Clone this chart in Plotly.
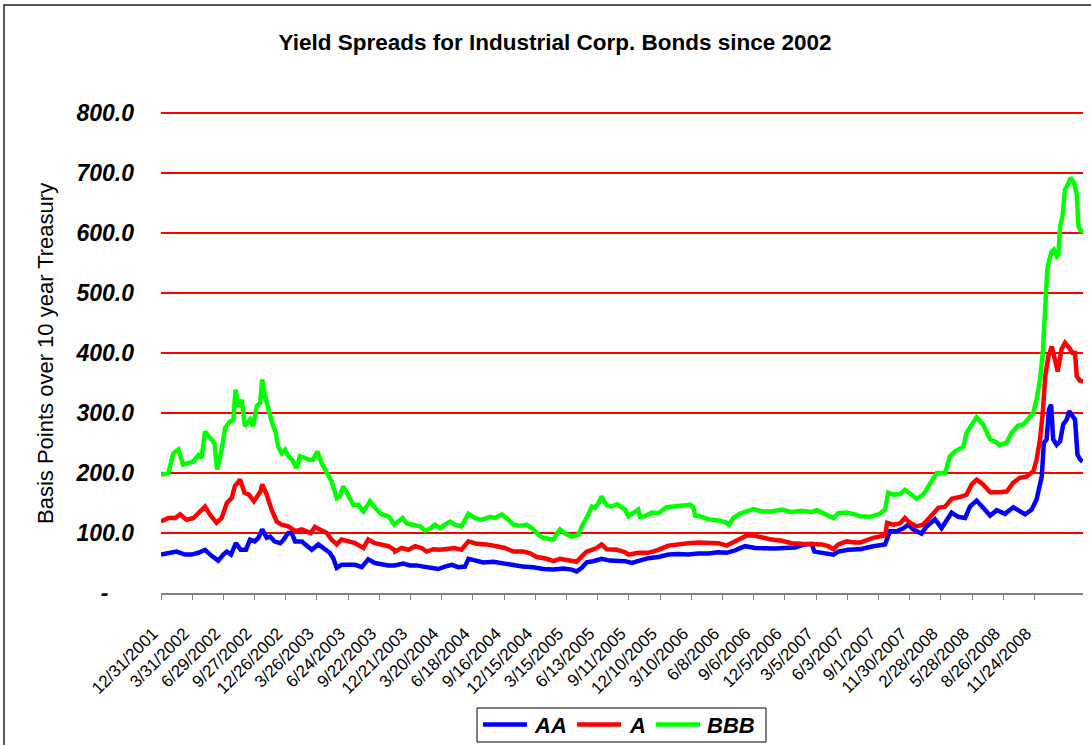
import pandas as pd
import plotly.graph_objects as go

start_date = "2001-12-31"

tick_labels = ["12/31/2001", "3/31/2002", "6/29/2002", "9/27/2002", "12/26/2002", "3/26/2003",
               "6/24/2003", "9/22/2003", "12/21/2003", "3/20/2004", "6/18/2004", "9/16/2004",
               "12/15/2004", "3/15/2005", "6/13/2005", "9/11/2005", "12/10/2005", "3/10/2006",
               "6/8/2006", "9/6/2006", "12/5/2006", "3/5/2007", "6/3/2007", "9/1/2007",
               "11/30/2007", "2/28/2008", "5/28/2008", "8/26/2008", "11/24/2008"]

series_names = ["AA", "A", "BBB"]
series_colors = ["#0000FF", "#FF0000", "#00FF00"]

# days since 12/31/2001 and basis points
bbb_days = [0, 21, 36, 50, 64, 79, 93, 108, 117, 127, 141, 154, 162, 175, 185, 199, 209, 215, 223, 233,
            242, 257, 266, 276, 286, 292, 300, 310, 321, 331, 338, 348, 358, 367, 379, 391, 401, 415, 427,
            439, 451, 463, 478, 492, 507, 516, 526, 540, 555, 569, 584, 603, 617, 637, 656, 673,
            685, 697, 709, 728, 747, 762, 776, 791, 805, 819, 834, 848, 867, 887, 906, 925, 949, 964, 983,
            997, 1017, 1036, 1055, 1074, 1089, 1103, 1122, 1132, 1151, 1166, 1185, 1204, 1214, 1228, 1243,
            1252, 1262, 1271, 1286, 1300, 1315, 1334,
            1339, 1348, 1363, 1377, 1382, 1396, 1416, 1435, 1459, 1483, 1507, 1526, 1536, 1541, 1555, 1579,
            1608, 1627, 1639, 1651, 1670, 1690, 1709, 1733, 1762, 1791, 1819, 1848, 1877, 1892, 1916, 1940,
            1954, 1978, 2002,
            2017, 2045, 2074, 2089, 2098, 2113, 2132, 2146, 2161, 2180, 2199, 2219, 2238, 2262, 2276, 2291,
            2315, 2324, 2339, 2353, 2372, 2392, 2411, 2420, 2440, 2454, 2473, 2488, 2502, 2517, 2526, 2536,
            2544, 2550, 2557, 2563, 2570, 2576, 2584, 2589, 2594, 2601, 2608, 2618, 2624, 2634, 2642, 2647,
            2653, 2661]
bbb = [197, 200, 233, 239, 214, 217, 219, 230, 225, 269, 258, 250, 206, 239, 275, 286, 289, 339, 311, 322,
       278, 289, 278, 311, 317, 356, 328, 303, 283, 267, 244, 233, 239, 228, 222, 208, 228, 225, 222,
       222, 236, 217, 200, 186, 158, 161, 178, 161, 147, 147, 136, 153, 142, 131, 128, 114,
       119, 125, 116, 114, 111, 104, 107, 114, 108, 114, 119, 114, 111, 132, 125, 122, 127, 125, 131,
       125, 114, 112, 114, 106, 97, 92, 89, 89, 106, 99, 94, 97, 111, 125, 144,
       142, 150, 161, 146, 144, 148, 139,
       139, 128, 134, 139, 127, 128, 134, 133, 143, 144, 146, 147, 143, 129, 128, 123,
       121, 118, 114, 125, 132, 137, 140, 136, 136, 139, 135, 137, 135, 138, 131, 125,
       133, 134, 131,
       128, 127, 132, 139, 167, 164, 165, 172, 165, 157, 164, 183, 200, 200, 228, 236,
       244, 267, 281, 293, 281, 256, 251, 246, 251, 267, 279, 281, 290, 301, 322, 356,
       400, 467, 539, 556, 569, 572, 561, 564, 611, 628, 672, 683, 692, 684, 664, 611,
       604, 603]

a_days = [0, 21, 41, 55, 74, 94, 108, 127, 141, 160, 175, 190, 204, 213, 228, 241, 254, 268, 287, 292,
          305, 319, 334, 348, 367, 387, 406, 420, 432, 444, 458, 478, 492, 507, 521, 540, 560, 584, 598,
          617, 637, 656, 673,
          675, 694, 714, 733, 752, 766, 786, 805, 829, 848, 867, 887, 911, 940, 968, 992, 1017, 1045,
          1065, 1084, 1113, 1132, 1151, 1175, 1199, 1214, 1228, 1243, 1257, 1271, 1286, 1315, 1334,
          1339, 1348, 1377, 1406, 1435, 1464, 1493, 1521, 1550, 1579, 1608, 1632, 1646, 1670, 1690, 1709,
          1733, 1762, 1791, 1819, 1848, 1877, 1906, 1925, 1940, 1954, 1978, 2002,
          2017, 2055, 2089, 2095, 2113, 2132, 2146, 2161, 2180, 2199, 2219, 2243, 2262, 2281, 2305, 2324,
          2339, 2353, 2372, 2392, 2420, 2440, 2459, 2478, 2497, 2517, 2526, 2536, 2544, 2551, 2560, 2570,
          2579, 2587, 2598, 2608, 2621, 2630, 2637, 2642, 2651, 2661]
a = [119, 125, 125, 131, 122, 125, 133, 144, 131, 117, 125, 150, 158, 178, 189, 167, 164, 153, 169, 181,
     164, 139, 119, 114, 111, 103, 106, 103, 100, 110, 106, 100, 89, 81, 89, 86, 83, 75, 89,
     83, 81, 78, 72,
     69, 75, 72, 78, 75, 69, 73, 72, 73, 75, 72, 86, 82, 81, 78, 75, 69, 69,
     66, 60, 57, 53, 57, 54, 52, 61, 69, 72, 75, 81, 73, 72, 69,
     68, 64, 67, 67, 72, 79, 82, 83, 84, 83, 83, 79, 83, 90, 96, 96,
     92, 89, 87, 83, 82, 81, 81, 78, 73, 81, 86, 84,
     84, 92, 96, 117, 114, 116, 125, 117, 111, 114, 128, 142, 144, 157, 160, 164,
     181, 189, 181, 168, 168, 169, 184, 192, 194, 203, 222, 256, 300, 361, 394, 411,
     389, 369, 406, 417, 408, 400, 400, 361, 354, 353]

aa_days = [0, 21, 45, 69, 88, 108, 127, 146, 165, 180, 190, 202, 216, 230, 245, 257, 270, 281, 292, 305,
           315, 327, 344, 354, 367, 377, 387, 406, 420, 435, 454, 473, 487, 497, 507, 521, 540, 560, 579,
           598, 617, 637, 656, 673,
           680, 699, 718, 738, 757, 776, 800, 819, 839, 858, 877, 887, 906, 930, 959, 988, 1017, 1045,
           1074, 1103, 1132, 1161, 1185, 1199, 1214, 1228, 1247, 1271, 1295, 1324,
           1339, 1358, 1387, 1406, 1435, 1464, 1493, 1521, 1550, 1579, 1608, 1632, 1656, 1685, 1714, 1743,
           1771, 1800, 1829, 1858, 1877, 1885, 1906, 1925, 1940, 1954, 1983, 2012,
           2017, 2055, 2089, 2103, 2122, 2142, 2156, 2170, 2194, 2209, 2233, 2252, 2281, 2300, 2320, 2334,
           2353, 2372, 2392, 2411, 2435, 2459, 2493, 2512, 2526, 2541, 2547, 2555, 2562, 2568, 2574, 2584,
           2594, 2603, 2613, 2620, 2627, 2637, 2644, 2651, 2659]
aa = [64, 67, 69, 64, 64, 67, 72, 62, 54, 64, 69, 64, 83, 72, 72, 89, 86, 92, 106, 92,
      94, 86, 83, 89, 100, 100, 86, 86, 78, 72, 81, 72, 67, 58, 42, 47, 47, 47, 43,
      56, 50, 47, 46, 46,
      47, 49, 46, 46, 44, 43, 40, 44, 47, 43, 44, 57, 54, 51, 52, 49, 46, 44,
      43, 40, 39, 41, 39, 36, 42, 51, 53, 57, 54, 53,
      53, 50, 54, 58, 60, 64, 65, 64, 66, 66, 68, 67, 71, 78, 75, 74,
      74, 75, 76, 81, 82, 69, 67, 67, 64, 69, 72, 73,
      73, 78, 81, 103, 103, 108, 114, 106, 99, 111, 123, 108, 134, 127, 125, 144,
      154, 142, 129, 138, 132, 143, 131, 139, 156, 194, 250, 256, 306, 314, 256, 247,
      253, 281, 289, 303, 297, 289, 231, 223, 219]

start = pd.Timestamp(start_date)
def to_dates(days):
    return [start + pd.Timedelta(days=d) for d in days]

tick_vals = pd.to_datetime(tick_labels, format="%m/%d/%Y")
x_end = start + pd.Timedelta(days=2660)

W, H = 1091, 745
L, R, T, B = 161, 8, 110, 152
pw, ph = W - L - R, H - T - B

def px_x(p):
    return (p - L) / pw

def px_y(p):
    return (H - B - p) / ph

FONT = "Liberation Sans, Arial, sans-serif"

fig = go.Figure()
for name, days, vals, col in zip(series_names, [aa_days, a_days, bbb_days], [aa, a, bbb], series_colors):
    fig.add_trace(go.Scatter(x=to_dates(days), y=vals, name=name, mode="lines",
                             line=dict(color=col, width=4.5), showlegend=False))

y_vals = [0, 100, 200, 300, 400, 500, 600, 700, 800]
y_text = ["-\u00a0\u00a0\u00a0\u00a0"] + [f"{v:.1f}" for v in y_vals[1:]]

# legend drawn as a framed key below the plot
legend_shapes = [dict(type="rect", xref="paper", yref="paper",
                      x0=px_x(477), x1=px_x(766), y0=px_y(742), y1=px_y(708),
                      line=dict(color="#000000", width=1), fillcolor="white")]
legend_ann = []
line_x0 = [483, 577, 656]
text_x0 = [532, 627, 705]
for name, col, lx, tx in zip(series_names, series_colors, line_x0, text_x0):
    legend_shapes.append(dict(type="line", xref="paper", yref="paper",
                              x0=px_x(lx), x1=px_x(lx + 44), y0=px_y(724.5), y1=px_y(724.5),
                              line=dict(color=col, width=4.5)))
    legend_ann.append(dict(text=name, xref="paper", yref="paper", x=px_x(tx), y=px_y(725.5),
                           xanchor="left", yanchor="middle", showarrow=False,
                           font=dict(family=FONT, size=22, weight="bold", style="italic", color="black")))

fig.update_layout(
    width=W, height=H,
    margin=dict(l=L, r=R, t=T, b=B),
    paper_bgcolor="white", plot_bgcolor="white",
    font=dict(family=FONT, color="black"),
    title=dict(text="Yield Spreads for Industrial Corp. Bonds since 2002",
               font=dict(family=FONT, size=22.5, weight="bold", color="black"),
               xref="paper", x=px_x(555), xanchor="center",
               yref="container", y=1 - 42 / H, yanchor="middle"),
    xaxis=dict(type="date", range=[start, x_end], tickvals=tick_vals, ticktext=tick_labels,
               tickangle=-45, tickfont=dict(family=FONT, size=17, color="black"),
               showgrid=False, zeroline=False, showline=True, linecolor="#808080", linewidth=2,
               ticks="outside", ticklen=5, tickcolor="#808080", tickwidth=1,
               ticklabelstandoff=17, ticklabelshift=-8),
    yaxis=dict(range=[0, 805], tickvals=y_vals, ticktext=y_text,
               tickfont=dict(family=FONT, size=23, weight="bold", style="italic", color="black"),
               showgrid=True, gridcolor="#FF0000", gridwidth=2, zeroline=False, showline=False,
               ticks="", ticklabelstandoff=26),
    showlegend=False,
    annotations=[dict(text="Basis Points over 10 year Treasury", xref="paper", yref="paper",
                      x=px_x(45), y=px_y(353), xanchor="center", yanchor="middle", textangle=-90,
                      showarrow=False, font=dict(family=FONT, size=22, color="black"))] + legend_ann,
    shapes=[dict(type="rect", xref="paper", yref="paper",
                 x0=px_x(4), x1=px_x(W + 20), y0=px_y(H + 20), y1=px_y(5),
                 line=dict(color="#222222", width=1.5), fillcolor="rgba(0,0,0,0)", layer="below")]
           + legend_shapes,
)

fig.write_html("out.html")
